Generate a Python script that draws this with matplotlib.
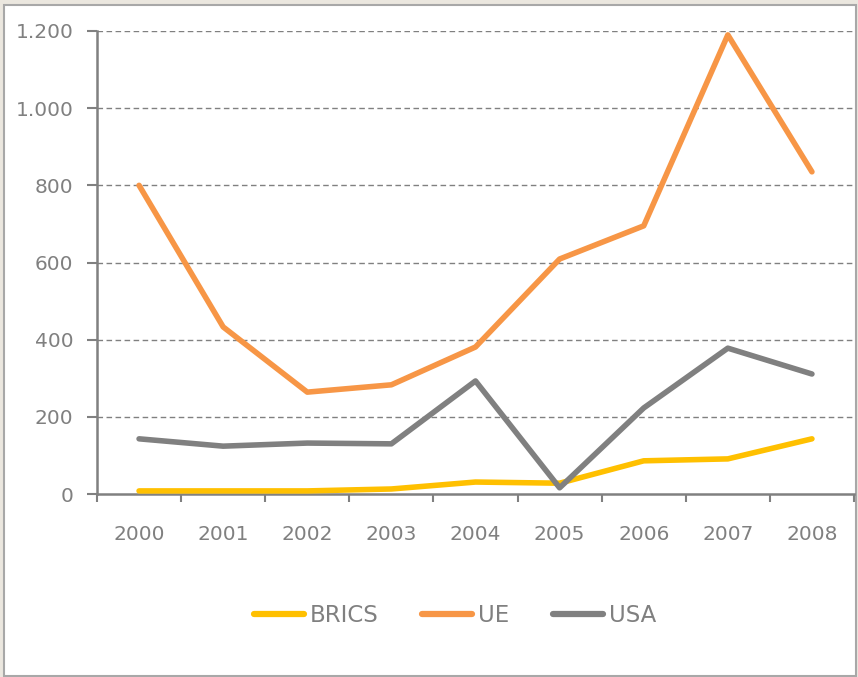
import matplotlib.pyplot as plt
from matplotlib.patches import Rectangle
from matplotlib.ticker import FixedLocator, FuncFormatter

years = ['2000', '2001', '2002', '2003', '2004', '2005', '2006', '2007', '2008']
brics = [8, 8, 8, 13, 31, 28, 86, 91, 143]
ue = [800, 433, 264, 283, 381, 609, 695, 1190, 835]
usa = [143, 124, 132, 130, 293, 16, 223, 378, 311]

grey = '#808080'
W, H = 858, 677

fig = plt.figure(figsize=(W / 100, H / 100), dpi=100, facecolor='#ebe7df')
fig.patches.append(Rectangle((4 / W, 1 - 676 / H), 852 / W, 671 / H,
                             transform=fig.transFigure, facecolor='white',
                             edgecolor='#a8a8a8', linewidth=1.5, zorder=-1))

ax = fig.add_axes([97 / W, 1 - 494 / H, 757 / W, 463 / H])
ax.set_facecolor('none')

x = list(range(len(years)))
ax.plot(x, brics, color='#FFC000', lw=4, solid_capstyle='round', label='BRICS', zorder=3)
ax.plot(x, ue, color='#F79646', lw=4, solid_capstyle='round', label='UE', zorder=3)
ax.plot(x, usa, color='#808080', lw=4, solid_capstyle='round', label='USA', zorder=3)

ax.set_xlim(-0.5, len(years) - 0.5)
ax.set_ylim(0, 1200)
ax.set_yticks(range(0, 1201, 200))
ax.yaxis.set_major_formatter(FuncFormatter(lambda v, p: f'{int(v):,}'.replace(',', '.')))
ax.set_xticks(x)
ax.set_xticklabels(years)
ax.xaxis.set_minor_locator(FixedLocator([i - 0.5 for i in range(len(years) + 1)]))

ax.tick_params(axis='x', which='major', length=0, pad=22, labelsize=14.5, labelcolor=grey)
ax.tick_params(axis='x', which='minor', length=6, width=1.5, color=grey, direction='out')
ax.tick_params(axis='y', length=7, width=1.5, color=grey, pad=10, labelsize=14.5, labelcolor=grey)

for s in ['top', 'right']:
    ax.spines[s].set_visible(False)
for s in ['left', 'bottom']:
    ax.spines[s].set_color(grey)
    ax.spines[s].set_linewidth(1.8)

for v in range(200, 1201, 200):
    ax.axhline(v, color=grey, lw=1, ls=(0, (4, 2.5)), zorder=1)

leg = fig.legend(loc='center', bbox_to_anchor=(455 / W, 1 - 616 / H), ncol=3,
                 frameon=False, fontsize=16.5, handlelength=2.2, handletextpad=0.25,
                 columnspacing=1.9, labelcolor=grey)
for line in leg.get_lines():
    line.set_linewidth(4.5)

fig.savefig('out.png', dpi=100, facecolor=fig.get_facecolor())
